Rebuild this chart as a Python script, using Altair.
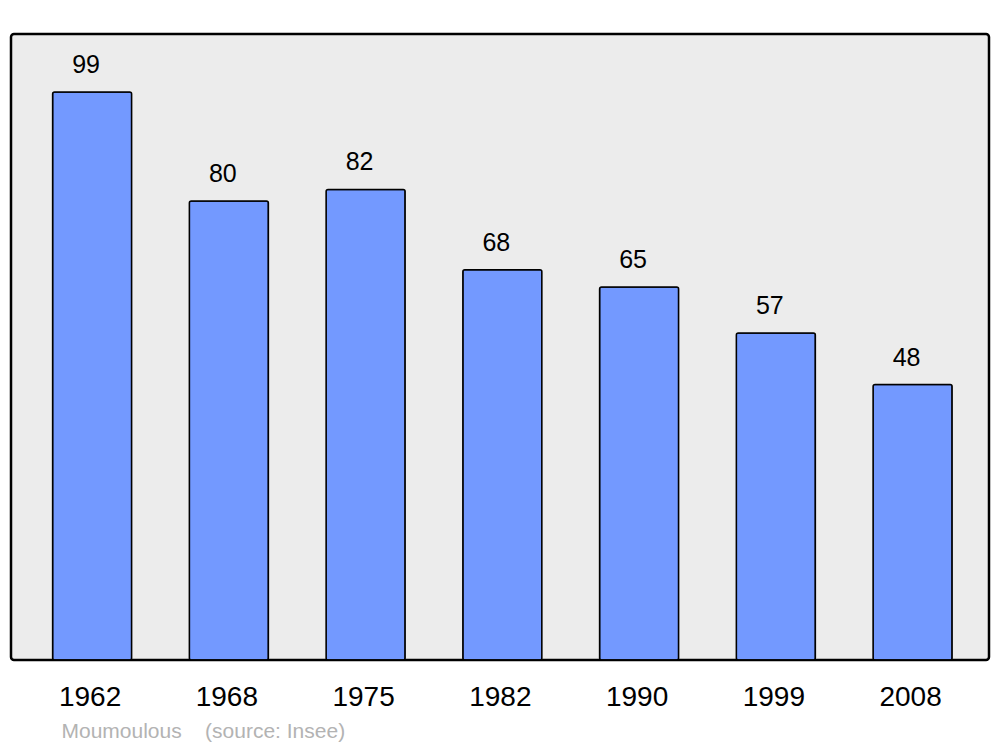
import altair as alt
import pandas as pd

years = ["1962", "1968", "1975", "1982", "1990", "1999", "2008"]
population = [99, 80, 82, 68, 65, 57, 48]

df = pd.DataFrame({"year": years, "pop": population})

FONT = "Liberation Sans"

x = alt.X(
    "year:N",
    sort=None,
    scale=alt.Scale(paddingInner=0.422, paddingOuter=0.287, align=0.53),
    axis=alt.Axis(
        title="Moumoulous\u00a0\u00a0\u00a0\u00a0(source: Insee)",
        labelAngle=0,
        labelFontSize=28,
        labelFont=FONT,
        labelColor="black",
        ticks=False,
        tickSize=0,
        domain=False,
        grid=False,
        labelPadding=45,
        labelBaseline="alphabetic",
        labelOffset=-2,
        titleX=50,
        titleY=77,
        titleAlign="left",
        titleBaseline="alphabetic",
        titleFont=FONT,
        titleFontSize=21,
        titleFontWeight="normal",
        titleColor="#b3b3b3",
    ),
)
y = alt.Y("pop:Q", scale=alt.Scale(domain=[0, 109.1], nice=False), axis=None)

bars = alt.Chart(df).mark_bar(
    fill="#7399ff", stroke="black", strokeWidth=1.5, cornerRadius=2
).encode(x=x, y=y)

labels = alt.Chart(df).mark_text(
    font=FONT, fontSize=25, color="black", baseline="alphabetic", dx=-6, dy=-19
).encode(x=x, y=y, text="pop:Q")

chart = (
    (bars + labels)
    .properties(
        width=978,
        height=626,
        padding={"left": 3, "top": 26, "right": 3, "bottom": 87},
        autosize=alt.AutoSizeParams(type="none"),
        background="white",
    )
    .configure_view(fill="#ececec", stroke="black", strokeWidth=2.5, cornerRadius=3)
)

chart.save("out.html", embed_options={"renderer": "svg", "actions": False})
